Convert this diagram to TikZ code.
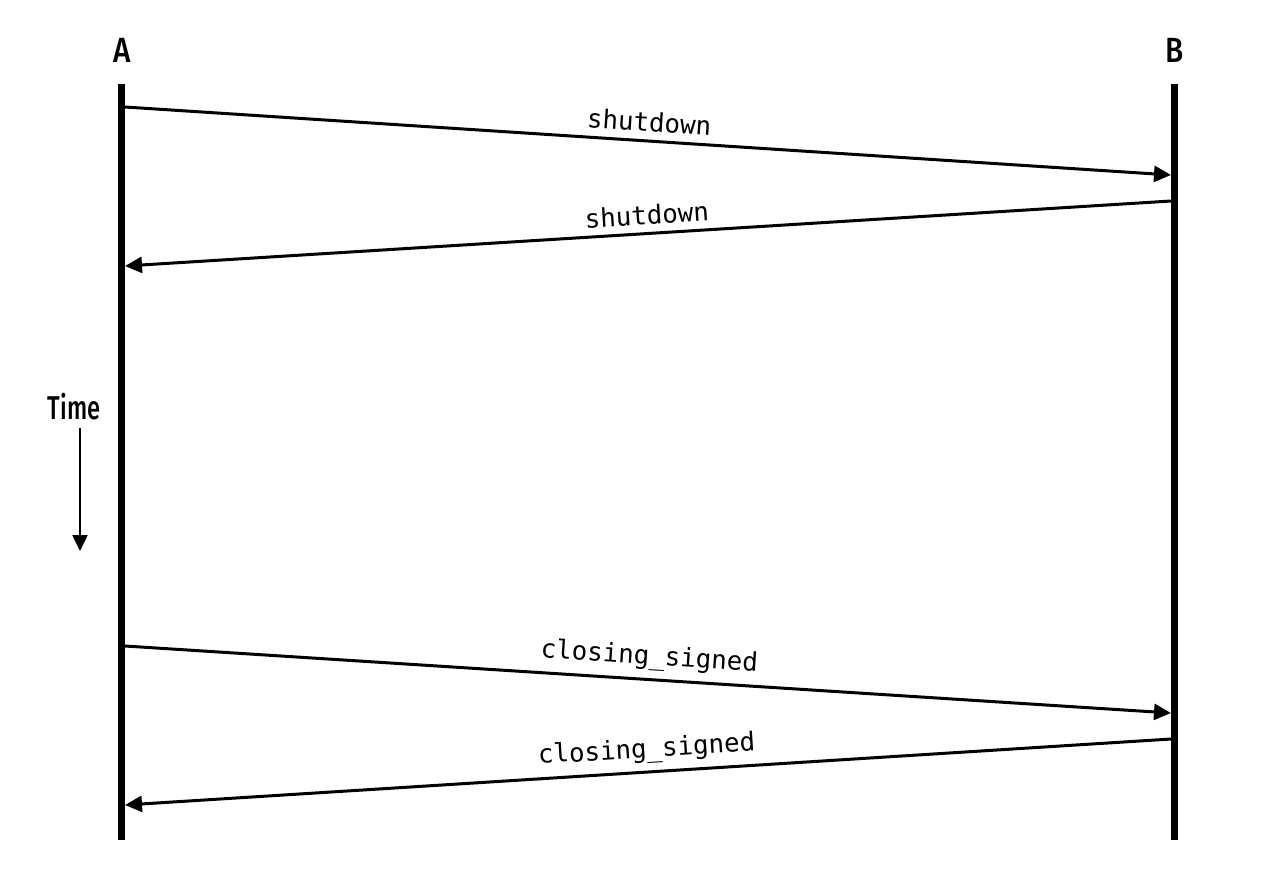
\documentclass[tikz,border=0pt]{standalone}
\usepackage{fontspec}
\usepackage{tikz}
\usetikzlibrary{arrows.meta,positioning}
\newfontfamily\headfont[FakeStretch=0.72]{Fira Sans Medium}
\newfontfamily\wideheadfont[FakeStretch=0.85]{Fira Sans Medium}
\newfontfamily\msgfont{DejaVu Sans Mono}

\begin{document}
\begin{tikzpicture}[x=1pt, y=-1pt,
    lifeline/.style={line width=7pt},
    msg/.style={line width=3pt, -{Triangle[length=17pt,width=16pt]}},
    msglabel/.style={midway, above=4pt, sloped, font=\msgfont\fontsize{25.8}{28}\selectfont},
    head/.style={font=\headfont\fontsize{33}{36}\selectfont},
    party/.style={font=\wideheadfont\fontsize{35}{38}\selectfont}]
        \useasboundingbox (0,0) rectangle (1282,892);

        % Parties
        \node[party] (A) at (122,50) {A};
        \node[party] (B) at (1175,50) {B};
        \coordinate (Atop) at (121.5,84);
        \coordinate (Abot) at (121.5,840);
        \coordinate (Btop) at (1174.5,84);
        \coordinate (Bbot) at (1174.5,840);
        \draw[lifeline] (Atop) -- (Abot);
        \draw[lifeline] (Btop) -- (Bbot);

        % Message end points
        \coordinate (a1) at (125,107);
        \coordinate (b1) at (1171,175);
        \coordinate (b2) at (1171,201);
        \coordinate (a2) at (125,266);
        \coordinate (a3) at (125,646);
        \coordinate (b3) at (1171,713);
        \coordinate (b4) at (1171,739);
        \coordinate (a4) at (125,805);

        % Messages
        \draw[msg] (a1) -- (b1) node[msglabel] {shutdown};
        \draw[msg] (b2) -- (a2) node[msglabel] {shutdown};
        \draw[msg] (a3) -- (b3) node[msglabel] {closing\_signed};
        \draw[msg] (b4) -- (a4) node[msglabel] {closing\_signed};

        % Time axis
        \node[head] (time) at (74,407) {Time};
        \coordinate (tend) at (80,551);
        \draw[line width=2.5pt, -{Triangle[length=16pt,width=15pt]}] (time.south -| tend) ++(0,4) -- (tend);
      \end{tikzpicture}
\end{document}
